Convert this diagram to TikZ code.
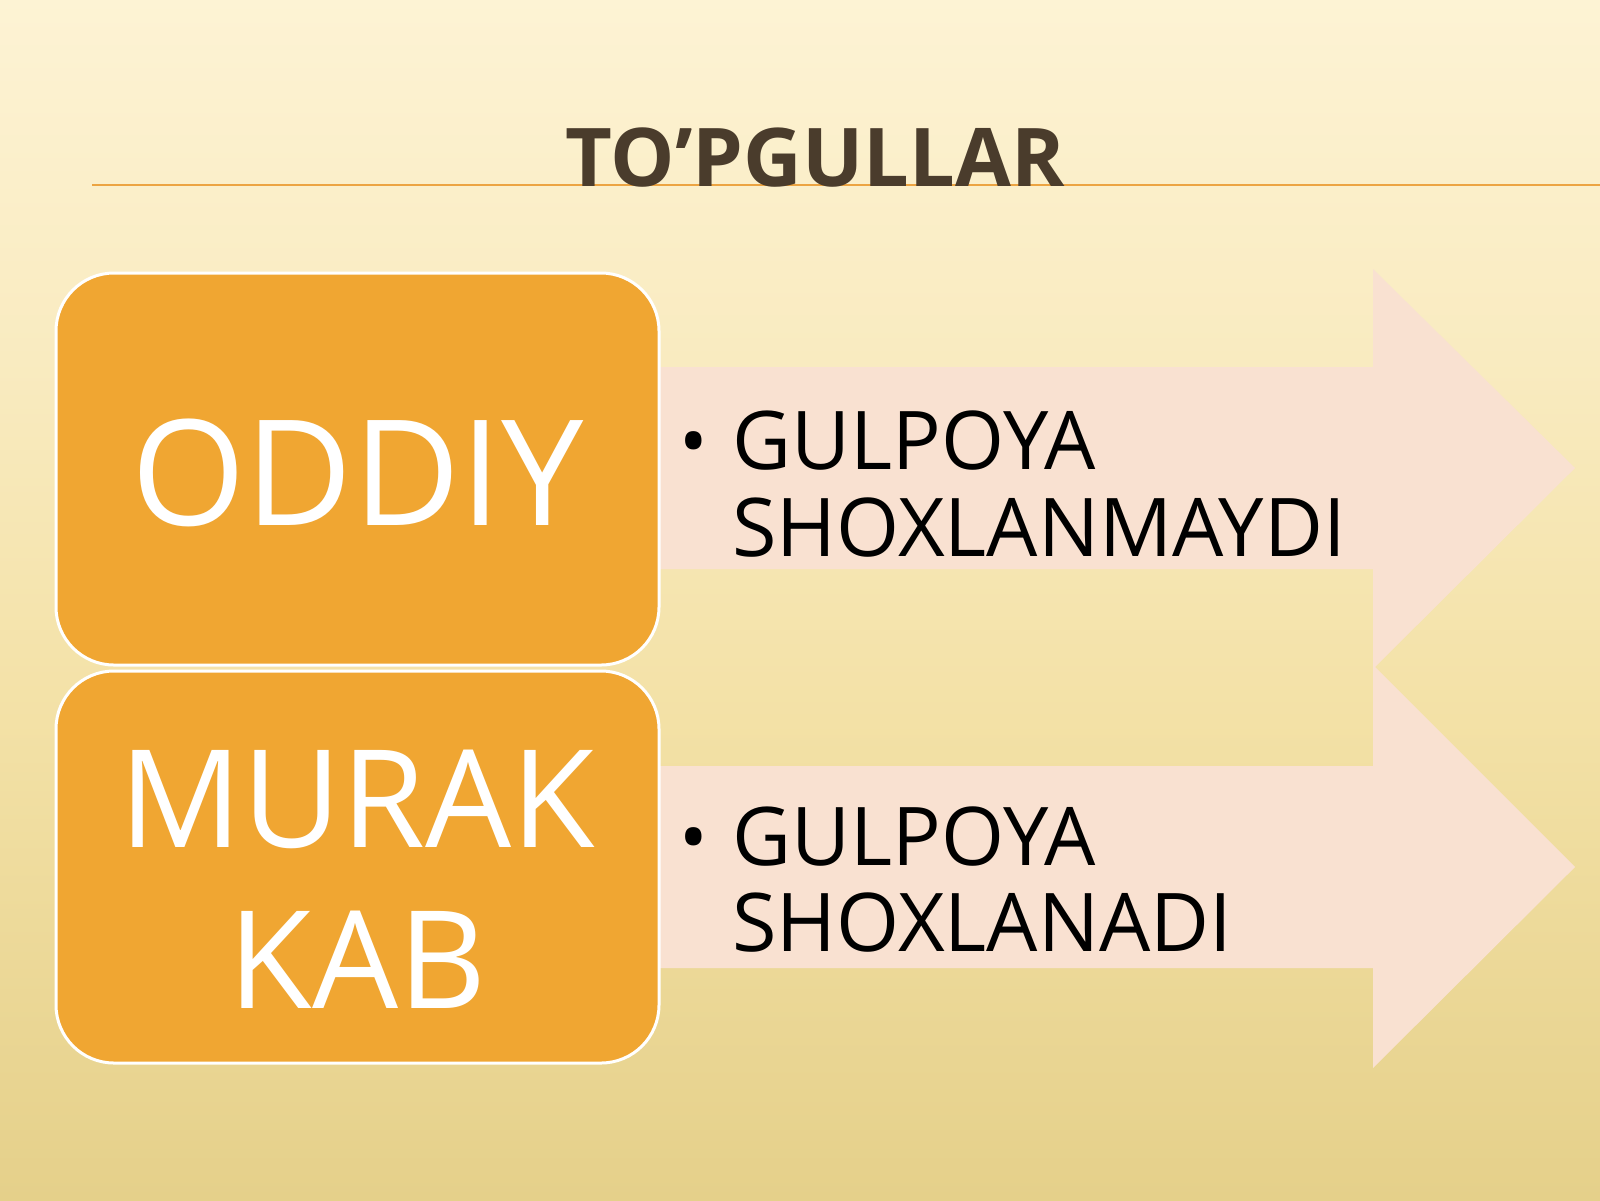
\documentclass[tikz,border=0pt]{standalone}
\usepackage{fontspec}
\setmainfont{Open Sans}
\definecolor{boxorange}{RGB}{240,166,50}
\definecolor{arrowpink}{RGB}{249,225,209}
\definecolor{titlebrown}{RGB}{74,60,44}
\definecolor{ruleorange}{RGB}{236,164,66}
\definecolor{bgA}{RGB}{229,208,138}
\definecolor{bgB}{RGB}{243,225,166}
\definecolor{bgC}{RGB}{249,235,192}
\definecolor{bgD}{RGB}{253,243,212}
\pgfdeclareverticalshading{slidebg}{100bp}{%
  color(0bp)=(bgA); color(25bp)=(bgA); color(45bp)=(bgB);
  color(60bp)=(bgC); color(75bp)=(bgD); color(100bp)=(bgD)}
\tikzset{
  catbox/.style={draw=white, line width=1.5pt, fill=boxorange, rounded corners=29pt},
  pinkarrow/.style={fill=arrowpink, draw=none},
  cattext/.style={text=white, inner sep=0pt, anchor=base},
  bullettext/.style={text=black, inner sep=0pt, anchor=base west, font=\fontsize{40.5pt}{48pt}\selectfont},
  bulletdot/.style={text=black, inner sep=0pt, anchor=base, font=\fontsize{38pt}{46pt}\selectfont},
}
\begin{document}
\begin{tikzpicture}[x=0.5pt,y=-0.5pt]
\useasboundingbox (0,0) rectangle (1600,1200);
% background
\shade[shading=slidebg] (0,0) rectangle (1600,1200);
% title rule
\coordinate (ruleL) at (92,185);
\coordinate (ruleR) at (1600,185);
\draw[ruleorange, line width=1.2pt] (ruleL) -- (ruleR);
\node[inner sep=0pt, anchor=base, text=titlebrown, font=\fontsize{40.5pt}{48pt}\selectfont\bfseries] (title) at (815,186) {TO’PGULLAR};
% arrows
\path[pinkarrow] (600,367) -- (1373,367) -- (1373,269) -- (1575,468) -- (1373,669) -- (1373,569) -- (600,569) -- cycle;
\path[pinkarrow] (600,766) -- (1373,766) -- (1373,665) -- (1575,867) -- (1373,1068) -- (1373,968) -- (600,968) -- cycle;
% boxes
\draw[catbox] (56,273) rectangle (659,665);
\draw[catbox] (56,671) rectangle (659,1063);
\node[cattext, font=\fontsize{73.5pt}{88pt}\selectfont] (oddiy) at (357.5,525) {ODDIY};
\node[cattext, font=\fontsize{68pt}{82pt}\selectfont] (murak) at (357.5,847) {MURAK};
\node[cattext, font=\fontsize{68pt}{82pt}\selectfont] (kab) at (357.5,1008) {KAB};
% bullet texts
\node[bulletdot] (dot1) at (694,468) {•};
\node[bullettext] (t1a) at (732,469) {GULPOYA};
\node[bullettext] (t1b) at (732,556) {SHOXLANMAYDI};
\node[bulletdot] (dot2) at (694,864) {•};
\node[bullettext] (t2a) at (732,865) {GULPOYA};
\node[bullettext] (t2b) at (732,951) {SHOXLANADI};
\end{tikzpicture}
\end{document}
